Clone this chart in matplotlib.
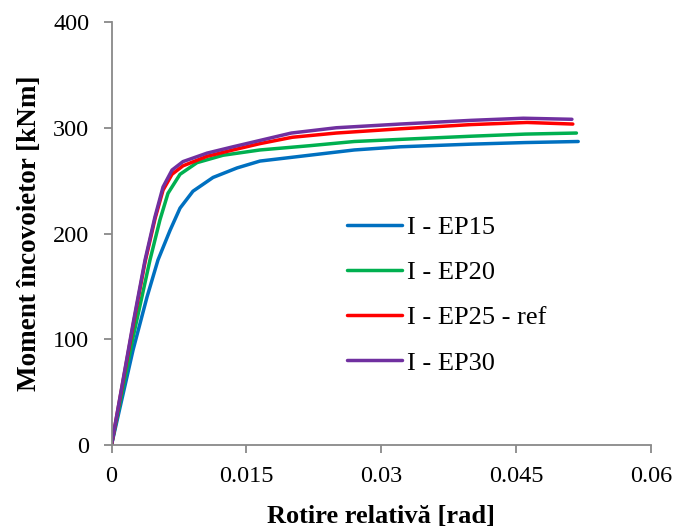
import matplotlib
matplotlib.use("Agg")
import matplotlib.pyplot as plt

# values (rotation [rad], moment [kNm])
x_ep15 = [0, 0.0024, 0.00395, 0.00517, 0.00651, 0.00762, 0.00906, 0.01129, 0.01396, 0.01651,
          0.022, 0.027, 0.0321, 0.040, 0.046, 0.0519]
y_ep15 = [0, 90, 140, 175, 203, 224, 240, 253, 262, 268.5,
          274, 279, 282, 284.5, 286, 287]

x_ep20 = [0, 0.0024, 0.00428, 0.00539, 0.00628, 0.00762, 0.00951, 0.0124, 0.01651,
          0.022, 0.027, 0.0321, 0.040, 0.046, 0.0517]
y_ep20 = [0, 102, 175, 213, 238, 256, 267, 274, 279,
          283, 287, 289, 292, 294, 295]

x_ep25 = [0, 0.0024, 0.00373, 0.00484, 0.00573, 0.00673, 0.00795, 0.01062, 0.01351, 0.01651,
          0.0201, 0.025, 0.0321, 0.040, 0.0462, 0.0513]
y_ep25 = [0, 113, 173, 214, 241, 256, 264, 273, 279, 285,
          291, 295, 299, 303, 305, 303.5]

x_ep30 = [0, 0.0024, 0.00373, 0.00484, 0.00573, 0.00673, 0.00795, 0.01062, 0.01351, 0.01651,
          0.020, 0.025, 0.0321, 0.040, 0.0458, 0.0512]
y_ep30 = [0, 115, 175, 216, 244, 260, 268, 276, 282, 288,
          295, 300, 303.5, 307, 309, 308]

labels = ["I - EP15", "I - EP20", "I - EP25 - ref", "I - EP30"]
colors = ["#0070C0", "#00B050", "#FF0000", "#7030A0"]

plt.rcParams['font.family'] = ['Liberation Serif', 'DejaVu Serif']

fig = plt.figure(figsize=(6.75, 5.29), dpi=100)
ax = fig.add_axes([0.1652, 0.1588, 0.7993, 0.7996])

series = [(x_ep15, y_ep15), (x_ep20, y_ep20), (x_ep25, y_ep25), (x_ep30, y_ep30)]
for (xs, ys), lab, col in zip(series, labels, colors):
    ax.plot(xs, ys, color=col, lw=2.5, label=lab, solid_capstyle='round',
            solid_joinstyle='round')

ax.set_xlim(0, 0.06)
ax.set_ylim(0, 400)
ax.set_xticks([0, 0.015, 0.03, 0.045, 0.06])
ax.set_xticklabels(["0", "0.015", "0.03", "0.045", "0.06"])
ax.set_yticks([0, 100, 200, 300, 400])

for s in ["top", "right"]:
    ax.spines[s].set_visible(False)
for s in ["left", "bottom"]:
    ax.spines[s].set_color("#898989")
    ax.spines[s].set_linewidth(1.3)
ax.tick_params(colors="#898989", labelcolor="black", labelsize=17.5, length=6, width=1.3)
ax.tick_params(axis='x', pad=9)
ax.tick_params(axis='y', pad=10)

ax.set_xlabel("Rotire relativă [rad]", fontsize=19, fontweight="bold", labelpad=13)
ax.set_ylabel("Moment încovoietor [kNm]", fontsize=19.5, fontweight="bold", labelpad=8)

ax.legend(loc="upper left", bbox_to_anchor=(0.4365, 0.542), frameon=False, fontsize=19,
          handlelength=2.1, handletextpad=0.17, labelspacing=0.82,
          borderpad=0, borderaxespad=0)

fig.savefig("out.png", dpi=100)
